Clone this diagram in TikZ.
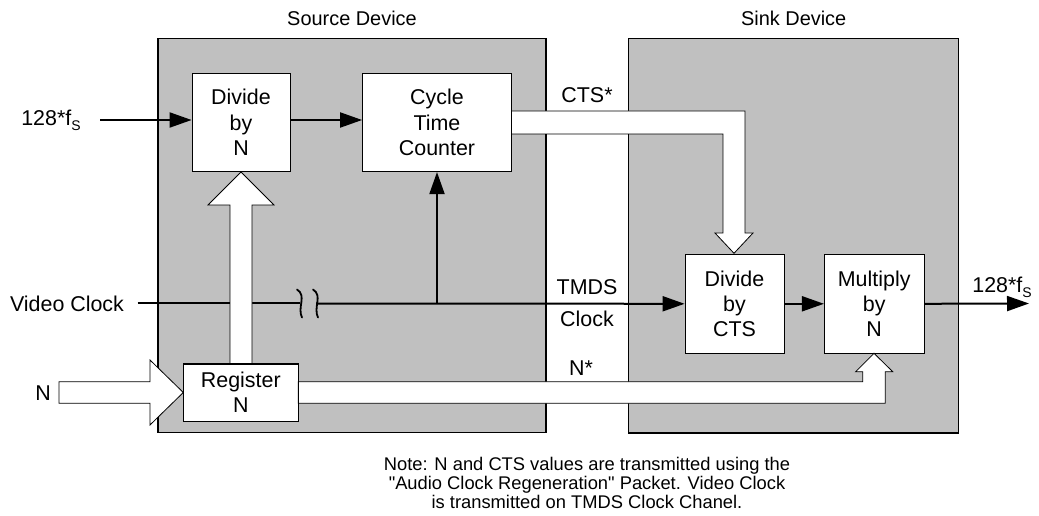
\documentclass[tikz,border=0pt]{standalone}
\usepackage{fontspec}
\setmainfont[Ligatures=TeXOff]{Liberation Sans}
\usetikzlibrary{arrows.meta,calc}
\definecolor{boxgray}{RGB}{192,192,192}
\newcommand{\fsub}{128*f\raisebox{-0.45ex}{\fontsize{14}{14}\selectfont S}}
\begin{document}
\begin{tikzpicture}[x=1bp,y=-1bp,
  ttl/.style={font=\fontsize{20}{26}\selectfont, inner sep=0pt, align=center},
  lbl/.style={font=\fontsize{21.5}{26}\selectfont, inner sep=0pt, align=center},
  blk/.style={draw=black, line width=0.8bp, fill=white, inner sep=0pt, align=center, font=\fontsize{21.5}{25.5}\selectfont},
  dev/.style={draw=black, line width=1.3bp, fill=boxgray, inner sep=0pt},
  sig/.style={line width=2bp},
  sigarr/.style={sig, -{Triangle[length=22bp,width=15bp]}},
  bus/.style={draw=black, line width=0.8bp, fill=white, line join=miter},
  squig/.style={line width=1.8bp, line cap=round},
  note/.style={font=\fontsize{18.4}{19}\selectfont, inner sep=0pt, align=center}]
\useasboundingbox (0,0) rectangle (1039,516);
% device areas
\node[dev, minimum width=388bp, minimum height=394.4bp] (src) at (352,235.5) {};
\node[dev, minimum width=330bp, minimum height=394.5bp] (snk) at (793.7,235.75) {};
\node[ttl] (srct) at (352,18) {Source Device};
\node[ttl] (snkt) at (793.7,18) {Sink Device};
% blocks
\node[blk, minimum width=98bp, minimum height=98.4bp] (divn) at (241,122.5) {Divide\\by\\N};
\node[blk, minimum width=149bp, minimum height=98.4bp] (ctc) at (437,122.5) {Cycle\\Time\\Counter};
\node[blk, minimum width=99bp, minimum height=99bp] (divcts) at (734.5,303.8) {Divide\\by\\CTS};
\node[blk, minimum width=99.7bp, minimum height=99bp] (mul) at (874.2,303.8) {Multiply\\by\\N};
% labels
\node[lbl] (in128) at (51,120) {\fsub};
\node[lbl] (vc) at (67,303.5) {Video Clock};
\node[lbl] (nin) at (43,393) {N};
\node[lbl] (out128) at (1002,287) {\fsub};
\node[lbl] (ctsl) at (587,95) {CTS*};
\node[lbl] (tmds) at (587,287) {TMDS};
\node[lbl] (clk) at (587,319) {Clock};
\node[lbl] (nstar) at (581,368) {N*};
% video clock line
\coordinate (vcs) at (137.5,303.5);
\coordinate (sq1) at (300,303.5);
\coordinate (sq2) at (316,303.5);
\coordinate (junc) at (437,303.5);
\coordinate (outend) at (1029,303.5);
\draw[sig] (vcs) -- (sq1);
\draw[sigarr] (sq2) -- (divcts.west);
\draw[sigarr] (junc) -- (ctc.south);
\draw[squig] ($(sq1)+(-3,-14)$) .. controls ($(sq1)+(7,-8)$) and ($(sq1)+(-3,4)$) .. ($(sq1)+(2,14)$);
\draw[squig] ($(sq2)+(-3,-14)$) .. controls ($(sq2)+(7,-8)$) and ($(sq2)+(-3,4)$) .. ($(sq2)+(2,14)$);
% other signal arrows
\coordinate (in128e) at (100,120);
\draw[sigarr] (in128e) -- (divn.west |- in128e);
\draw[sigarr] (divn.east |- in128e) -- (ctc.west |- in128e);
\draw[sigarr] (divcts.east) -- (mul.west);
\draw[sigarr] (mul.east) -- (outend);
% register
\node[blk, minimum width=115bp, minimum height=57bp] (reg) at (240.8,392.5) {Register\\N};
% hollow buses
\draw[bus] (230,364) -- (230,205) -- (208,205) -- (241,172) -- (274,205) -- (252,205) -- (252,364) -- cycle;
\draw[bus] (511.5,111) -- (745,111) -- (745,233) -- (753,233) -- (734,253.3) -- (715,233) -- (723,233) -- (723,134) -- (511.5,134) -- cycle;
\draw[bus] (298.3,381.7) -- (862.7,381.7) -- (862.7,371.7) -- (855.7,371.7) -- (874,353.3) -- (892.7,371.7) -- (885.3,371.7) -- (885.3,403.3) -- (298.3,403.3) -- cycle;
\draw[bus] (59,381.7) -- (150,381.7) -- (150,360) -- (183.3,392.5) -- (150,425) -- (150,403.3) -- (59,403.3) -- cycle;
\draw[line width=0.8bp] (reg.north west) rectangle (reg.south east);
% note
\node[note] (notetxt) at (587,483) {Note: N and CTS values are transmitted using the\\"Audio Clock Regeneration" Packet. Video Clock\\is transmitted on TMDS Clock Chanel.};
\end{tikzpicture}
\end{document}
